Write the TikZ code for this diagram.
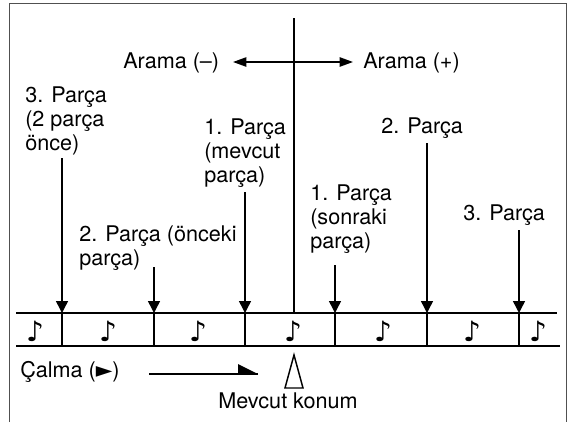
\documentclass[tikz,border=0pt]{standalone}
\usepackage{fontspec}
\setmainfont{TeX Gyre Heros}
\newfontfamily\symfont{DejaVu Sans}
\usetikzlibrary{arrows.meta}

\begin{document}
\begin{tikzpicture}[x=0.75pt,y=0.75pt,yscale=-1,xscale=1,
    lbl/.style={anchor=base west,inner sep=0pt,align=left,font=\fontsize{16.2}{18}\selectfont},
    thick line/.style={line width=1.1pt},
    pointer/.style={line width=1.1pt,-{Triangle[length=9pt,width=9pt]}},
    seek/.style={line width=1.1pt,-{Triangle[length=10pt,width=7pt]}},
    note/.style={inner sep=0pt,font=\symfont\fontsize{21}{21}\selectfont}]
    \useasboundingbox (0,0) rectangle (574,422);

    %Frame
    \draw [color={rgb, 255:red, 80; green, 80; blue, 80}, line width=1.1pt] (9.5,422) -- (9.5,3.5) -- (566.5,3.5) -- (566.5,422) ;

    %Straight Lines (staff)
    \draw [thick line] (16,313) -- (557,313) ;
    \draw [thick line] (16,346) -- (560,346) ;

    %Straight Lines (center)
    \coordinate (ctop) at (294,18);
    \coordinate (cbot) at (294,313);
    \coordinate (cmid) at (294,62);
    \draw [thick line] (ctop) -- (cbot) ;

    %Seek arrows
    \coordinate (seekl) at (233,62);
    \coordinate (seekr) at (353,62);
    \draw [seek] (cmid) -- (seekl) ;
    \draw [seek] (cmid) -- (seekr) ;

    %Track arrows and bar lines
    \foreach \x/\t [count=\i] in {62/158,154/267,245/192,335/265,427/143,519/230} {
        \coordinate (top\i) at (\x,\t);
        \coordinate (bar\i) at (\x,313);
        \coordinate (end\i) at (\x,346);
        \draw [thick line] (bar\i) -- (end\i) ;
        \draw [pointer] (top\i) -- (bar\i) ;
    }

    %Notes
    \foreach \x [count=\i] in {35,108,198,293,383,472,538}
        \node [note] (n\i) at (\x,331) {♪};

    % Text Node
    \node [lbl] (arm) at (123,68) {Arama (–)};
    % Text Node
    \node [lbl] (arp) at (363,68) {Arama (+)};
    % Text Node
    \node [lbl] (p3l) at (25,150) {3. Parça\\(2 parça\\önce)};
    % Text Node
    \node [lbl] (p1l) at (204,182) {1. Parça\\(mevcut\\parça)};
    % Text Node
    \node [lbl] (p2r) at (381,133) {2. Parça};
    % Text Node
    \node [lbl] (p1r) at (310,248) {1. Parça\\(sonraki\\parça)};
    % Text Node
    \node [lbl] (p3r) at (463,220) {3. Parça};
    % Text Node
    \node [lbl] (p2l) at (79,265) {2. Parça (önceki\\parça)};

    %Play direction
    \node [lbl] (play) at (20,377) {Çalma ({\symfont ►})};
    \coordinate (pstart) at (149,374);
    \coordinate (pend) at (258,374);
    \draw [line width=0.9pt] (pstart) -- (pend) ;
    \fill (238,364) -- (pend) -- (238,374) -- cycle ;

    %Current position
    \coordinate (cur) at (294,355);
    \draw [thick line, fill=white] (cur) -- (303,388) -- (285,388) -- cycle ;
    % Text Node
    \node [lbl] (konum) at (218,408) {Mevcut konum};

\end{tikzpicture}
\end{document}
